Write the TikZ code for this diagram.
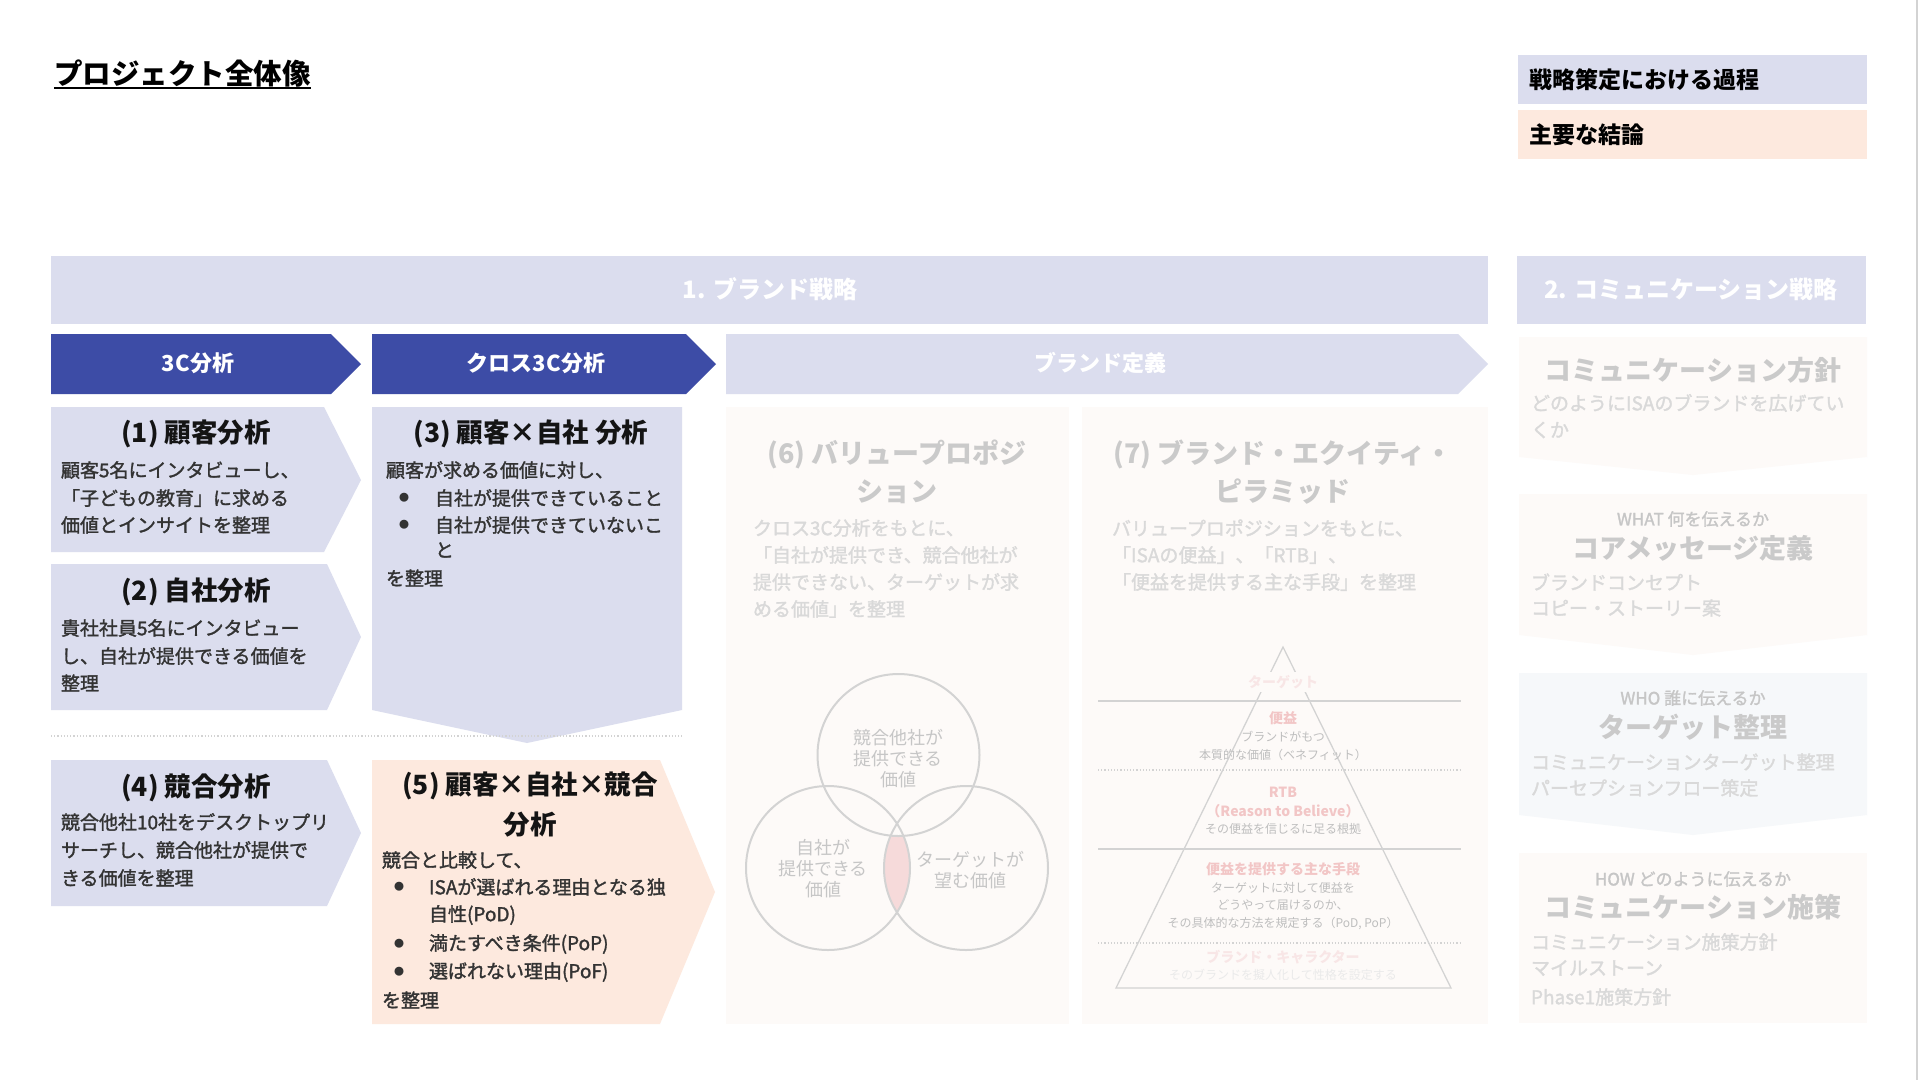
\documentclass[tikz,border=0pt]{standalone}
\usepackage{fontspec}
\setmainfont{Noto Sans CJK JP}
\newfontfamily\jpmed{Noto Sans CJK JP}[FakeBold=1.6]
\newfontfamily\jpreg{Noto Sans CJK JP}
\definecolor{navy}{HTML}{3D4CA6}
\definecolor{lav}{HTML}{DBDDEE}
\definecolor{peach}{HTML}{FDE9DE}
\definecolor{faint}{HTML}{FDFAF8}
\definecolor{faintblue}{HTML}{F6F8FA}
\definecolor{fadetitle}{HTML}{CACACA}
\definecolor{fadebody}{HTML}{D9D9D9}
\definecolor{fademid}{HTML}{C6C6C6}
\definecolor{pinkt}{HTML}{F2C6C6}
\definecolor{pinkf}{HTML}{F8E6E6}
\definecolor{pyrgray}{HTML}{BEBEBE}
\definecolor{pyrfaint}{HTML}{EAEAEA}
\definecolor{lensfill}{HTML}{F6DADA}
\definecolor{linegray}{HTML}{D3D3D3}
\definecolor{darktxt}{HTML}{141414}
\definecolor{bodytxt}{HTML}{333333}
\tikzset{
  every node/.style={inner sep=0pt,outer sep=0pt},
  ttl/.style={font=\fontsize{26.5}{32}\selectfont\bfseries,text=darktxt,anchor=center},
  bdy/.style={font=\jpmed\fontsize{19}{28}\selectfont,text=bodytxt,anchor=west},
  bul/.style={font=\jpreg\fontsize{10}{12}\selectfont,text=bodytxt,anchor=center},
  hdr/.style={font=\fontsize{22}{26}\selectfont\bfseries,text=white,anchor=center},
  band/.style={font=\fontsize{24}{28}\selectfont\bfseries,text=white,anchor=center},
  leg/.style={font=\fontsize{23}{28}\selectfont\bfseries,text=black,anchor=west},
  fttl/.style={font=\fontsize{27}{32}\selectfont\bfseries,text=fadetitle,anchor=center},
  fbdy/.style={font=\jpmed\fontsize{19}{28}\selectfont,text=fadebody,anchor=west},
  fsub/.style={font=\jpmed\fontsize{17}{20}\selectfont,text=fademid,anchor=center},
  vtxt/.style={font=\jpreg\fontsize{18}{21}\selectfont,text=fademid,anchor=center},
  ppink/.style={font=\fontsize{14}{16}\selectfont\bfseries,text=pinkt,anchor=center},
  pfaint/.style={font=\fontsize{14}{16}\selectfont\bfseries,text=pinkf,anchor=center},
  pgray/.style={font=\jpreg\fontsize{12}{14}\selectfont,text=pyrgray,anchor=center},
  pgfaint/.style={font=\jpreg\fontsize{12}{14}\selectfont,text=pyrfaint,anchor=center},
  hline/.style={draw=linegray,line width=1.2pt},
  dline/.style={draw=linegray,line width=1.2pt,dotted},
}
\begin{document}
\begin{tikzpicture}[x=1pt,y=-1pt]
\path[use as bounding box,fill=white] (0,0) rectangle (1920,1080);
\draw[linegray,line width=2pt] (1917,0) -- (1917,1080);

% title
\node[font=\fontsize{28.5}{32}\selectfont\bfseries,text=black,anchor=base west] (title) at (54,84) {プロジェクト全体像};
\draw[black,line width=1.8pt] ([yshift=-4pt]title.base west) -- ([yshift=-4pt]title.base east);

% legend
\fill[lav] (1518,55) rectangle (1867,104);
\fill[peach] (1518,110) rectangle (1867,159);
\node[leg] (leg1) at (1529,80) {戦略策定における過程};
\node[leg] (leg2) at (1529,135) {主要な結論};

% bands
\fill[lav] (51,256) rectangle (1488,324);
\fill[lav] (1517,256) rectangle (1866,324);
\node[band] (band1) at (770,289) {1. ブランド戦略};
\node[band] (band2) at (1691,289) {2. コミュニケーション戦略};

% chevrons
\fill[navy] (51,334) -- (331,334) -- (361,364) -- (331,394) -- (51,394) -- cycle;
\fill[navy] (372,334) -- (686,334) -- (716,364) -- (686,394) -- (372,394) -- cycle;
\fill[lav] (726,334) -- (1458,334) -- (1488,364) -- (1458,394) -- (726,394) -- cycle;
\node[hdr] (h1) at (198,363) {3C分析};
\node[hdr] (h2) at (536,363) {クロス3C分析};
\node[hdr] (h3) at (1100,363) {ブランド定義};

% left boxes
\fill[lav] (51,407) -- (324,407) -- (361,480) -- (324,552) -- (51,552) -- cycle;
\fill[lav] (51,564) -- (327,564) -- (361,637) -- (327,710) -- (51,710) -- cycle;
\fill[lav] (372,407) -- (682,407) -- (682,710) -- (527,743) -- (372,710) -- cycle;
\fill[lav] (51,760) -- (327,760) -- (361,833) -- (327,906) -- (51,906) -- cycle;
\fill[peach] (372,760) -- (660,760) -- (715,892) -- (660,1024) -- (372,1024) -- cycle;
\draw[dline] (51,736) -- (682,736);

% (1)
\node[ttl] (t1) at (196,434) {(1) 顧客分析};
\node[bdy] (b1a) at (61,470) {顧客5名にインタビューし、};
\node[bdy] (b1b) at (61,498) {「子どもの教育」に求める};
\node[bdy] (b1c) at (61,525) {価値とインサイトを整理};
% (2)
\node[ttl] (t2) at (196,592) {(2) 自社分析};
\node[bdy] (b2a) at (61,628) {貴社社員5名にインタビュー};
\node[bdy] (b2b) at (61,656) {し、自社が提供できる価値を};
\node[bdy] (b2c) at (61,683) {整理};
% (3)
\node[ttl] (t3) at (531,434) {(3) 顧客×自社 分析};
\node[bdy] (b3a) at (386,470) {顧客が求める価値に対し、};
\node[bul] (b3p1) at (404,498) {●};
\node[bdy] (b3b) at (435,498) {自社が提供できていること};
\node[bul] (b3p2) at (404,525) {●};
\node[bdy] (b3c) at (435,525) {自社が提供できていないこ};
\node[bdy] (b3d) at (435,550) {と};
\node[bdy] (b3e) at (386,578) {を整理};
% (4)
\node[ttl] (t4) at (196,788) {(4) 競合分析};
\node[bdy] (b4a) at (61,822) {競合他社10社をデスクトップリ};
\node[bdy] (b4b) at (61,850) {サーチし、競合他社が提供で};
\node[bdy] (b4c) at (61,878) {きる価値を整理};
% (5)
\node[ttl] (t5a) at (530,786) {(5) 顧客×自社×競合};
\node[ttl] (t5b) at (530,825) {分析};
\node[bdy] (b5a) at (382,860) {競合と比較して、};
\node[bul] (b5p1) at (399,887) {●};
\node[bdy] (b5b) at (429,887) {ISAが選ばれる理由となる独};
\node[bdy] (b5c) at (429,915) {自性(PoD)};
\node[bul] (b5p2) at (399,944) {●};
\node[bdy] (b5d) at (429,944) {満たすべき条件(PoP)};
\node[bul] (b5p3) at (399,972) {●};
\node[bdy] (b5e) at (429,972) {選ばれない理由(PoF)};
\node[bdy] (b5f) at (382,1000) {を整理};

% (6) and (7) boxes
\fill[faint] (726,407) rectangle (1069,1024);
\fill[faint] (1082,407) rectangle (1488,1024);
\node[fttl] (t6a) at (897,454) {(6) バリュープロポジ};
\node[fttl] (t6b) at (897,492) {ション};
\node[fbdy] (b6a) at (753,528) {クロス3C分析をもとに、};
\node[fbdy] (b6b) at (753,555) {「自社が提供でき、競合他社が};
\node[fbdy] (b6c) at (753,582) {提供できない、ターゲットが求};
\node[fbdy] (b6d) at (753,609) {める価値」を整理};
\node[fttl] (t7a) at (1283,454) {(7) ブランド・エクイティ・};
\node[fttl] (t7b) at (1283,492) {ピラミッド};
\node[fbdy] (b7a) at (1112,528) {バリュープロポジションをもとに、};
\node[fbdy] (b7b) at (1112,555) {「ISAの便益」、「RTB」、};
\node[fbdy] (b7c) at (1112,582) {「便益を提供する主な手段」を整理};

% venn
\begin{scope}
  \clip (828,868) circle (82);
  \clip (966,868) circle (82);
  \fill[lensfill,even odd rule] (800,760) rectangle (1000,980) (898.5,755) circle (81);
\end{scope}
\draw[linegray,line width=2pt] (898.5,755) circle (81);
\draw[linegray,line width=2pt] (828,868) circle (82);
\draw[linegray,line width=2pt] (966,868) circle (82);
\node[vtxt] (v1a) at (898,738) {競合他社が};
\node[vtxt] (v1b) at (898,759) {提供できる};
\node[vtxt] (v1c) at (898,780) {価値};
\node[vtxt] (v2a) at (823,848) {自社が};
\node[vtxt] (v2b) at (823,869) {提供できる};
\node[vtxt] (v2c) at (823,890) {価値};
\node[vtxt] (v3a) at (970,860) {ターゲットが};
\node[vtxt] (v3b) at (970,881) {望む価値};

% pyramid
\draw[hline] (1098,701) -- (1461,701);
\draw[dline] (1098,770) -- (1461,770);
\draw[hline] (1098,849) -- (1461,849);
\draw[dline] (1098,943) -- (1461,943);
\draw[linegray,line width=1.3pt,line join=miter] (1283,647) -- (1451,988) -- (1116,988) -- cycle;
\node[pfaint,fill=faint,inner sep=3pt] (p0) at (1283,682) {ターゲット};
\node[ppink] (p1) at (1283,718) {便益};
\node[pgray] (p1a) at (1283,737) {ブランドがもつ};
\node[pgray] (p1b) at (1283,755) {本質的な価値（ベネフィット）};
\node[ppink] (p2) at (1283,792) {RTB};
\node[ppink] (p2a) at (1283,811) {（Reason to Believe）};
\node[pgray] (p2b) at (1283,829) {その便益を信じるに足る根拠};
\node[ppink] (p3) at (1283,869) {便益を提供する主な手段};
\node[pgray] (p3a) at (1283,888) {ターゲットに対して便益を};
\node[pgray] (p3b) at (1283,905) {どうやって届けるのか、};
\node[pgray] (p3c) at (1283,923) {その具体的な方法を規定する（PoD, PoP）};
\node[pfaint] (p4) at (1283,957) {ブランド・キャラクター};
\node[pgfaint] (p4a) at (1283,975) {そのブランドを擬人化して性格を設定する};

% communication column
\fill[faint] (1519,337) -- (1867,337) -- (1867,457) -- (1693,475) -- (1519,457) -- cycle;
\fill[faint] (1519,494) -- (1867,494) -- (1867,635) -- (1693,655) -- (1519,635) -- cycle;
\fill[faintblue] (1519,673) -- (1867,673) -- (1867,815) -- (1693,835) -- (1519,815) -- cycle;
\fill[faint] (1519,853) rectangle (1867,1023);
\node[fttl] (cA) at (1693,370) {コミュニケーション方針};
\node[fbdy] (cAa) at (1531,403) {どのようにISAのブランドを広げてい};
\node[fbdy] (cAb) at (1531,430) {くか};
\node[fsub] (cBs) at (1693,519) {WHAT 何を伝えるか};
\node[fttl] (cB) at (1693,548) {コアメッセージ定義};
\node[fbdy] (cBa) at (1531,582) {ブランドコンセプト};
\node[fbdy] (cBb) at (1531,608) {コピー・ストーリー案};
\node[fsub] (cCs) at (1693,698) {WHO 誰に伝えるか};
\node[fttl] (cC) at (1693,727) {ターゲット整理};
\node[fbdy] (cCa) at (1531,762) {コミュニケーションターゲット整理};
\node[fbdy] (cCb) at (1531,788) {パーセプションフロー策定};
\node[fsub] (cDs) at (1693,879) {HOW どのように伝えるか};
\node[fttl] (cD) at (1693,907) {コミュニケーション施策};
\node[fbdy] (cDa) at (1531,942) {コミュニケーション施策方針};
\node[fbdy] (cDb) at (1531,968) {マイルストーン};
\node[fbdy] (cDc) at (1531,997) {Phase1施策方針};
\end{tikzpicture}
\end{document}
